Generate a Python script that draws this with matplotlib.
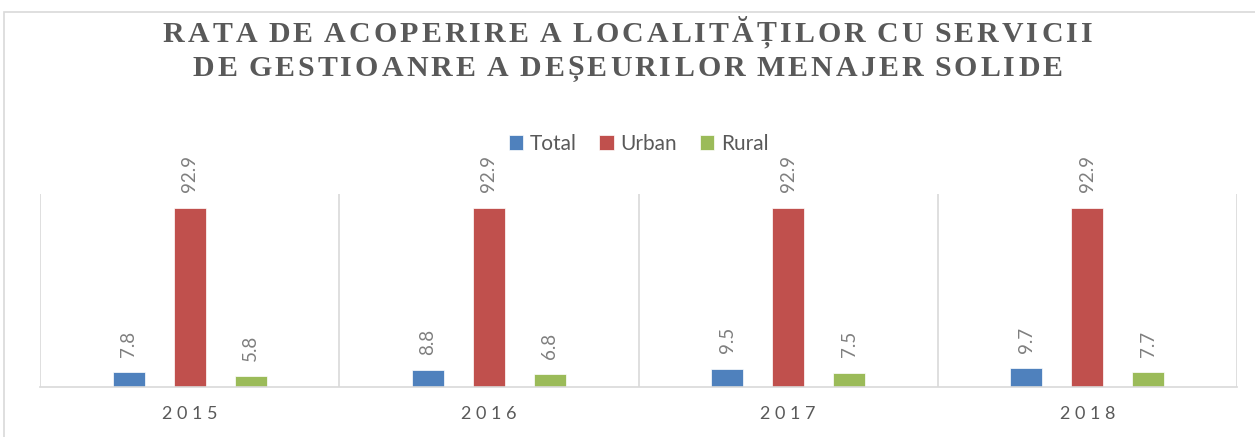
import numpy as np
import matplotlib.pyplot as plt
from matplotlib.patches import Rectangle

plt.rcParams['font.family'] = ['Lato', 'DejaVu Sans']

# date
ani = ['2015', '2016', '2017', '2018']
total = [7.8, 8.8, 9.5, 9.7]
urban = [92.9, 92.9, 92.9, 92.9]
rural = [5.8, 6.8, 7.5, 7.7]
serii = ['Total', 'Urban', 'Rural']
culori = ['#4F81BD', '#C0504D', '#9BBB59']
titlu = ['RATA DE ACOPERIRE A LOCALITĂȚILOR CU SERVICII',
         'DE GESTIOANRE A DEȘEURILOR MENAJER SOLIDE']

W, H = 1255, 437
fig = plt.figure(figsize=(W / 100, H / 100), dpi=100)
ax = fig.add_axes([40 / W, 50 / H, 1197 / W, 193 / H])

# chenarul graficului
fig.patches.append(Rectangle((4 / W, -0.05), 1.1, 0.05 + 425 / H, transform=fig.transFigure,
                             fill=False, edgecolor='#d9d9d9', linewidth=1.2))

x = np.arange(len(ani))
dx = 0.204
w = 0.107
for k, (vals, nume, c) in enumerate(zip([total, urban, rural], serii, culori)):
    bare = ax.bar(x + (k - 1) * dx, vals, w, color=c, label=nume, edgecolor='white', linewidth=0.5)
    for b, v in zip(bare, vals):
        ax.annotate(f'{v:.1f}', (b.get_x() + b.get_width() / 2, b.get_height()),
                    xytext=(0, 11), textcoords='offset points', rotation=90,
                    ha='center', va='bottom', fontsize=13.5, color='#7f7f7f')

ax.set_xlim(-0.5, len(ani) - 0.5)
ax.set_ylim(0, 100)
ax.set_yticks([])
for xv in np.arange(-0.5, len(ani), 1):
    ax.axvline(xv, color='#d9d9d9', linewidth=1.2, zorder=0)
for s in ['top', 'right', 'left']:
    ax.spines[s].set_visible(False)
ax.spines['bottom'].set_color('#d9d9d9')
ax.spines['bottom'].set_linewidth(1.2)
ax.set_xticks(x)
ax.set_xticklabels([' '.join(a) for a in ani], fontsize=13, color='#595959')
ax.tick_params(axis='x', length=0, pad=14)

ax.legend(loc='lower center', bbox_to_anchor=(0.5, 1.11), ncol=3, frameon=False,
          fontsize=15, handlelength=0.7, handleheight=0.7, handletextpad=0.3,
          columnspacing=1.1, labelcolor='#595959')

# titlu cu spatiere intre litere
renderer = fig.canvas.get_renderer()
stil = dict(fontsize=21.5, fontweight='bold', color='#595959',
            family=['Liberation Serif', 'DejaVu Serif'], va='center', ha='left')
spatiu = 3.1  # px intre litere
lat_spatiu = 5.0  # latimea unui spatiu intre cuvinte
for linie, yc in zip(titlu, [35, 69]):
    litere = []
    for ch in linie:
        if ch == ' ':
            litere.append((None, lat_spatiu))
            continue
        t = fig.text(0, 1 - yc / H, ch, **stil)
        litere.append((t, t.get_window_extent(renderer).width))
    lat = sum(l for _, l in litere) + spatiu * (len(litere) - 1)
    xp = W / 2 - lat / 2
    for t, l in litere:
        if t is not None:
            t.set_x(xp / W)
        xp += l + spatiu

fig.savefig('out.png', dpi=100)
